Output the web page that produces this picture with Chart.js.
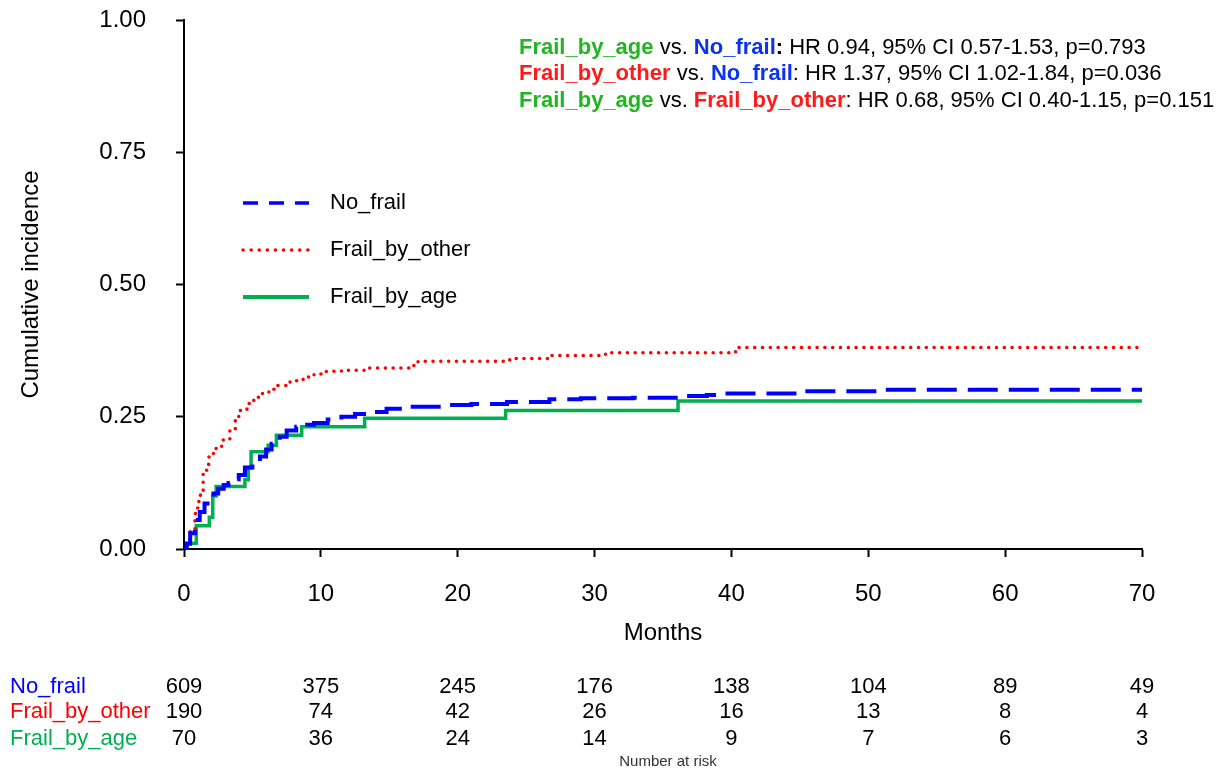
<!DOCTYPE html>
<html>
<head>
<meta charset="utf-8">
<script src="https://cdn.jsdelivr.net/npm/chart.js@4"></script>
<style>
  body { margin: 0; background: #fff; }
  #wrap { width: 1222px; height: 774px; }
</style>
</head>
<body>
<div id="wrap"><canvas id="cifChart" width="1222" height="774"></canvas></div>
<script>
// event times (months) and cumulative incidence after each step
let noFrailT   = [0, 0.2, 0.45, 0.8, 1.15, 1.5, 1.9, 2.15, 2.5, 2.9, 3.25, 3.6, 4.0, 4.45, 5.0, 5.55, 6.0, 6.4, 7.0, 7.5, 8.2, 9.0, 9.5, 10.5, 11.5, 12.5, 13.4, 14.8, 16.5, 18.9, 21, 23.6, 26.7, 29, 32.8, 36.7, 38.2, 39.2, 45, 51, 70];
let noFrailCI  = [0, 0.01, 0.03, 0.055, 0.07, 0.086, 0.097, 0.105, 0.114, 0.121, 0.125, 0.132, 0.14, 0.154, 0.165, 0.175, 0.188, 0.199, 0.212, 0.224, 0.231, 0.235, 0.238, 0.245, 0.25, 0.255, 0.259, 0.265, 0.269, 0.272, 0.274, 0.278, 0.283, 0.285, 0.286, 0.289, 0.291, 0.294, 0.298, 0.301, 0.301];

let frailOtherT  = [0, 0.2, 0.45, 0.8, 1.0, 1.2, 1.4, 1.8, 2.15, 2.75, 3.35, 3.75, 4.0, 4.6, 5.1, 5.55, 6.2, 6.8, 7.75, 8.7, 9.5, 10.4, 11.5, 13.4, 16.5, 17.1, 23.8, 26.7, 30.8, 40.3, 70];
let frailOtherCI = [0, 0.012, 0.036, 0.067, 0.09, 0.111, 0.149, 0.174, 0.19, 0.206, 0.225, 0.247, 0.262, 0.275, 0.287, 0.294, 0.302, 0.309, 0.318, 0.325, 0.331, 0.336, 0.338, 0.342, 0.347, 0.355, 0.36, 0.366, 0.371, 0.381, 0.381];

let frailAgeT  = [0, 0.2, 0.9, 1.85, 2.1, 2.35, 4.45, 4.7, 4.9, 6.15, 6.75, 8.6, 13.2, 23.5, 36.1, 70];
let frailAgeCI = [0, 0.011, 0.044, 0.06, 0.1, 0.118, 0.131, 0.153, 0.184, 0.196, 0.215, 0.231, 0.247, 0.262, 0.28, 0.28];

// number at risk table
let riskTimes = [0, 10, 20, 30, 40, 50, 60, 70];
let riskNoFrail = [609, 375, 245, 176, 138, 104, 89, 49];
let riskFrailOther = [190, 74, 42, 26, 16, 13, 8, 4];
let riskFrailAge = [70, 36, 24, 14, 9, 7, 6, 3];

let groupNames = ['No_frail', 'Frail_by_other', 'Frail_by_age'];
let groupColors = ['#0000ff', '#ff0000', '#00b050'];

let FONT = 'Arial, "Liberation Sans", sans-serif';

function pairs(t, v) {
    return t.map((x, i) => ({ x: x, y: v[i] }));
}

// legend, HR text and risk table
let extras = {
    id: 'extras',
    afterDraw(chart) {
        let ctx = chart.ctx;
        let xs = chart.scales.x;
        ctx.save();

        // legend inside plot
        let legY = [203, 250, 297];
        let dashes = [[15, 11], [0.1, 8], []];
        let caps = ['butt', 'round', 'butt'];
        let widths = [3.5, 3.5, 4];
        for (let i = 0; i < 3; i++) {
            ctx.beginPath();
            ctx.strokeStyle = groupColors[i];
            ctx.lineWidth = widths[i];
            ctx.lineCap = caps[i];
            ctx.setLineDash(dashes[i]);
            ctx.moveTo(243, legY[i]);
            ctx.lineTo(309, legY[i]);
            ctx.stroke();
            ctx.setLineDash([]);
            ctx.fillStyle = '#000';
            ctx.font = '22px ' + FONT;
            ctx.textAlign = 'left';
            ctx.textBaseline = 'middle';
            ctx.fillText(groupNames[i], 330, legY[i]);
        }

        // hazard ratio lines
        let green = '#22b522', blue = '#0a32f0', red = '#ff1a1a';
        let hrLines = [
            [['Frail_by_age', green, true], [' vs. ', '#000', false], ['No_frail', blue, true], [':', '#000', true], [' HR 0.94, 95% CI 0.57-1.53, p=0.793', '#000', false]],
            [['Frail_by_other', red, true], [' vs. ', '#000', false], ['No_frail', blue, true], [': HR 1.37, 95% CI 1.02-1.84, p=0.036', '#000', false]],
            [['Frail_by_age', green, true], [' vs. ', '#000', false], ['Frail_by_other', red, true], [': HR 0.68, 95% CI 0.40-1.15, p=0.151', '#000', false]]
        ];
        let hrY = [48, 74, 101];
        hrLines.forEach((segs, r) => {
            let x = 519;
            segs.forEach(s => {
                ctx.font = (s[2] ? 'bold ' : '') + '22px ' + FONT;
                ctx.fillStyle = s[1];
                ctx.textAlign = 'left';
                ctx.textBaseline = 'middle';
                ctx.fillText(s[0], x, hrY[r]);
                x += ctx.measureText(s[0]).width;
            });
        });

        // number at risk
        let rows = [riskNoFrail, riskFrailOther, riskFrailAge];
        let rowY = [687, 712, 739];
        ctx.font = '22px ' + FONT;
        ctx.textBaseline = 'middle';
        rows.forEach((vals, r) => {
            ctx.fillStyle = groupColors[r];
            ctx.textAlign = 'left';
            ctx.fillText(groupNames[r], 10, rowY[r]);
            ctx.fillStyle = '#000';
            ctx.textAlign = 'center';
            vals.forEach((v, i) => {
                ctx.fillText(String(v), xs.getPixelForValue(riskTimes[i]), rowY[r]);
            });
        });
        ctx.font = '15px ' + FONT;
        ctx.fillStyle = '#333';
        ctx.textAlign = 'center';
        ctx.fillText('Number at risk', 668, 762);

        ctx.restore();
    }
};

let ctxCif = document.getElementById('cifChart');

let cifChart = new Chart(ctxCif, {
    type: 'line',
    data: {
        datasets: [{
            label: groupNames[0],
            data: pairs(noFrailT, noFrailCI),
            borderColor: groupColors[0],
            borderWidth: 4,
            borderDash: [30, 11],
            stepped: 'before',
            pointRadius: 0
        }, {
            label: groupNames[1],
            data: pairs(frailOtherT, frailOtherCI),
            borderColor: groupColors[1],
            borderWidth: 3.5,
            borderDash: [0.1, 7.7],
            borderCapStyle: 'round',
            stepped: 'before',
            pointRadius: 0
        }, {
            label: groupNames[2],
            data: pairs(frailAgeT, frailAgeCI),
            borderColor: groupColors[2],
            borderWidth: 3.5,
            stepped: 'before',
            pointRadius: 0
        }]
    },
    options: {
        responsive: false,
        animation: false,
        layout: {
            padding: { top: 20, left: 0, right: 80, bottom: 126 }
        },
        plugins: {
            legend: { display: false },
            tooltip: { enabled: false }
        },
        scales: {
            x: {
                type: 'linear',
                min: 0,
                max: 70,
                afterFit: s => { s.height = 99; },
                ticks: {
                    stepSize: 10,
                    color: '#000',
                    padding: 23,
                    maxRotation: 0,
                    font: { family: FONT, size: 24 }
                },
                grid: { drawOnChartArea: false, drawTicks: true, tickLength: 8, tickWidth: 2, color: '#000' },
                border: { display: true, color: '#000', width: 2 },
                title: {
                    display: true,
                    text: 'Months',
                    color: '#000',
                    padding: 0,
                    font: { family: FONT, size: 24 }
                }
            },
            y: {
                min: 0,
                max: 1,
                // keep label padding from pushing the plot area down
                afterFit: s => { s.width = 184; s.paddingTop = 0; s.paddingBottom = 0; },
                ticks: {
                    stepSize: 0.25,
                    color: '#000',
                    padding: 30,
                    font: { family: FONT, size: 24 },
                    callback: v => v.toFixed(2)
                },
                grid: { drawOnChartArea: false, drawTicks: true, tickLength: 8, tickWidth: 2, color: '#000' },
                border: { display: true, color: '#000', width: 2 },
                title: {
                    display: true,
                    text: 'Cumulative incidence',
                    color: '#000',
                    padding: { top: 17, bottom: 0 },
                    font: { family: FONT, size: 24 }
                }
            }
        }
    },
    plugins: [extras]
});
</script>
</body>
</html>
